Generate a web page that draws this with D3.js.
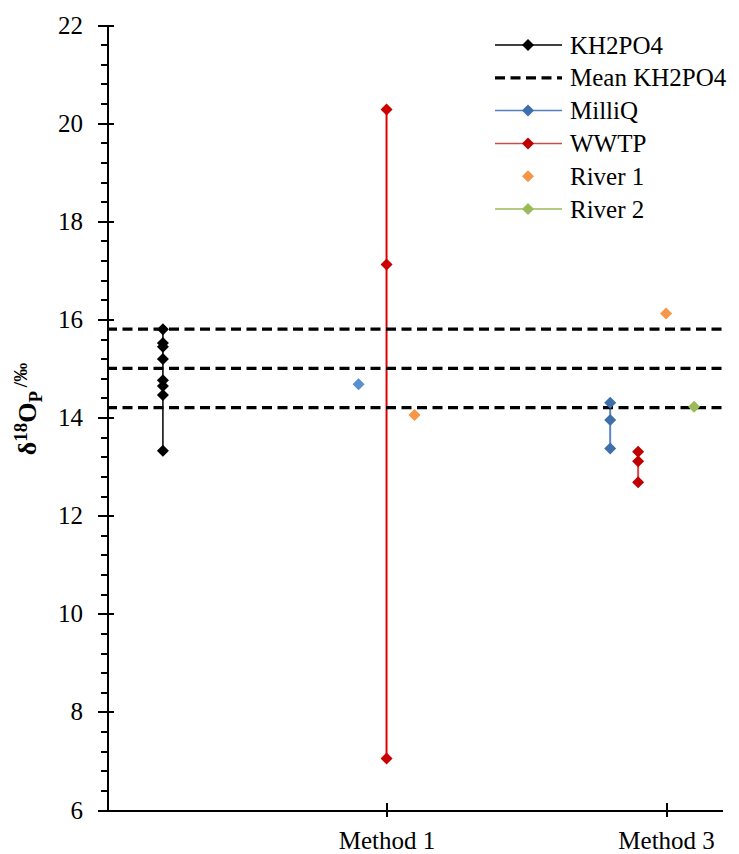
<!DOCTYPE html>
<html lang="en">
<head>
    <meta charset="UTF-8">
    <title>d18Op by method</title>
    <script src="https://d3js.org/d3.v7.min.js"></script>
    <style>
        body {
            margin: 0;
            background: #fff;
        }
        .axis path,
        .axis line {
            stroke: #000;
            stroke-width: 2;
            shape-rendering: crispEdges;
        }
    </style>
</head>
<body>
<div id="chart"></div>

<script>

    // categories on the x axis (x position 1 and 2)
    var categories = ["Method 1", "Method 3"];
    var yTicks = [6, 8, 10, 12, 14, 16, 18, 20, 22];

    // KH2PO4 standard, mean and +/- lines
    var kh2po4X = [0.2, 0.2, 0.2, 0.2, 0.2, 0.2, 0.2, 0.2];
    var kh2po4Y = [15.80, 15.52, 15.44, 15.19, 14.76, 14.64, 14.46, 13.32];
    var meanKH2PO4 = [15.8, 15.0, 14.2];

    // MilliQ
    var milliQ1X = [0.9];
    var milliQ1Y = [14.68];
    var milliQ3X = [1.8, 1.8, 1.8];
    var milliQ3Y = [14.30, 13.95, 13.37];

    // WWTP
    var wwtp1X = [1, 1, 1];
    var wwtp1Y = [20.28, 17.12, 7.05];
    var wwtp3X = [1.9, 1.9, 1.9];
    var wwtp3Y = [13.30, 13.11, 12.68];

    // rivers
    var river1X = [1.1, 2.0];
    var river1Y = [14.05, 16.12];
    var river2X = [2.1];
    var river2Y = [14.22];

    function zip(xs, ys) {
        return xs.map(function(d, i) { return {x: d, y: ys[i]}; });
    }

    var series = [
        {name: "KH2PO4", pts: zip(kh2po4X, kh2po4Y), line: "#000", lw: 1.5, fill: "#000"},
        {name: "MilliQ m1", pts: zip(milliQ1X, milliQ1Y), line: null, fill: "#5a8fd0"},
        {name: "MilliQ", pts: zip(milliQ3X, milliQ3Y), line: "#5b87c4", lw: 2, fill: "#3f6fa8"},
        {name: "WWTP m1", pts: zip(wwtp1X, wwtp1Y), line: "#e00000", lw: 2, fill: "#cc0000"},
        {name: "WWTP", pts: zip(wwtp3X, wwtp3Y), line: "#d24a4a", lw: 2, fill: "#c00000"},
        {name: "River 1", pts: zip(river1X, river1Y), line: null, fill: "#f79646"},
        {name: "River 2", pts: zip(river2X, river2Y), line: null, fill: "#9bbb59"}
    ];

    var legendItems = [
        {label: "KH2PO4", line: "#000", fill: "#000"},
        {label: "Mean KH2PO4", dash: true},
        {label: "MilliQ", line: "#4f81bd", fill: "#3f6fa8"},
        {label: "WWTP", line: "#c0504d", fill: "#c00000"},
        {label: "River 1", line: null, fill: "#f79646"},
        {label: "River 2", line: "#9bbb59", fill: "#9bbb59"}
    ];

    var serif = "'Liberation Serif'";

    var width = 739, height = 854;
    var margin = {top: 25, right: 17, bottom: 44, left: 107};

    var svg = d3.select("#chart").append("svg")
            .attr("width", width)
            .attr("height", height);

    var x = d3.scaleLinear()
            .domain([0, 2.2])
            .range([margin.left, width - margin.right]);

    var y = d3.scaleLinear()
            .domain([6, 22])
            .range([height - margin.bottom, margin.top]);

    var diamond = "M0,-6L6,0L0,6L-6,0Z";

    // series lines
    var line = d3.line()
            .x(function(d) { return x(d.x); })
            .y(function(d) { return y(d.y); });

    svg.append("g").selectAll("path")
            .data(series.filter(function(s) { return s.line; }))
            .enter().append("path")
            .attr("d", function(s) { return line(s.pts); })
            .attr("fill", "none")
            .attr("stroke", function(s) { return s.line; })
            .attr("stroke-width", function(s) { return s.lw; });

    // mean KH2PO4 lines
    svg.append("g").selectAll("line")
            .data(meanKH2PO4)
            .enter().append("line")
            .attr("x1", x(0))
            .attr("x2", x(2.2))
            .attr("y1", function(d) { return y(d); })
            .attr("y2", function(d) { return y(d); })
            .attr("stroke", "#000")
            .attr("stroke-width", 3.2)
            .attr("stroke-dasharray", "10,5.5");

    // markers
    series.forEach(function(s) {
        svg.append("g").selectAll("path")
                .data(s.pts)
                .enter().append("path")
                .attr("d", diamond)
                .attr("transform", function(d) { return "translate(" + x(d.x) + "," + y(d.y) + ")"; })
                .attr("fill", s.fill);
    });

    // y axis, major ticks cross the axis line
    var yAxis = svg.append("g")
            .attr("class", "axis")
            .attr("transform", "translate(" + margin.left + ",0)")
            .call(d3.axisLeft(y).tickValues(yTicks).tickSize(9).tickSizeOuter(0).tickPadding(15));
    yAxis.selectAll(".tick line").attr("x2", -9).attr("x1", 7);

    var minor = d3.range(6, 22.01, 0.4).filter(function(v) { return Math.abs(v / 2 - Math.round(v / 2)) > 0.01; });
    svg.append("g")
            .attr("class", "axis")
            .attr("transform", "translate(" + margin.left + ",0)")
            .call(d3.axisLeft(y).tickValues(minor).tickSize(6).tickSizeOuter(0).tickFormat(""))
            .select(".domain").remove();

    // x axis
    var xAxis = svg.append("g")
            .attr("class", "axis")
            .attr("transform", "translate(0," + y(6) + ")")
            .call(d3.axisBottom(x).tickValues([1, 2]).tickFormat(function(d) { return categories[d - 1]; })
                    .tickSize(7).tickSizeOuter(0));
    xAxis.selectAll(".tick line").attr("y1", -7);
    xAxis.selectAll(".tick text").attr("y", 39).attr("dy", 0);

    svg.selectAll(".axis").attr("font-family", null).attr("font-size", null);
    svg.selectAll(".axis text")
            .style("font-family", serif)
            .style("font-size", "25px")
            .attr("fill", "#000");

    // y axis label
    var ylab = svg.append("text")
            .attr("transform", "translate(36," + 409 + ") rotate(-90)")
            .attr("text-anchor", "middle")
            .style("font-family", serif)
            .style("font-weight", "bold")
            .style("font-size", "26px");
    ylab.append("tspan").text("δ");
    ylab.append("tspan").attr("dy", -9).style("font-size", "19px").text("18");
    ylab.append("tspan").attr("dy", 9).text("O");
    ylab.append("tspan").attr("dy", 6).style("font-size", "19px").text("P");
    ylab.append("tspan").attr("dy", -15).style("font-size", "19px").text(" /‰");

    // legend
    var legend = svg.append("g")
            .attr("transform", "translate(495,45)");

    var rows = legend.selectAll("g")
            .data(legendItems)
            .enter().append("g")
            .attr("transform", function(d, i) { return "translate(0," + (i * 32.8) + ")"; });

    rows.filter(function(d) { return d.line || d.dash; })
            .append("line")
            .attr("x1", 0)
            .attr("x2", 67)
            .attr("stroke", function(d) { return d.dash ? "#000" : d.line; })
            .attr("stroke-width", function(d) { return d.dash ? 3.2 : 1.5; })
            .attr("stroke-dasharray", function(d) { return d.dash ? "10,5.5" : null; });

    rows.filter(function(d) { return d.fill; })
            .append("path")
            .attr("d", diamond)
            .attr("transform", "translate(33,0)")
            .attr("fill", function(d) { return d.fill; });

    rows.append("text")
            .attr("x", 75)
            .attr("y", 8.5)
            .style("font-family", serif)
            .style("font-size", "25px")
            .text(function(d) { return d.label; });

</script>
</body>
</html>
